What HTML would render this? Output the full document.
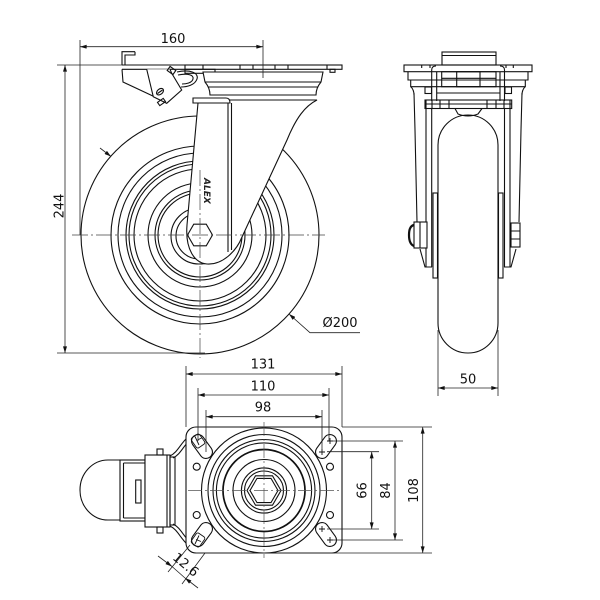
<!DOCTYPE html>
<html><head><meta charset="utf-8"><style>html,body{margin:0;padding:0;background:#fff}svg{display:block}</style></head>
<body>
<svg width="600" height="600" viewBox="0 0 600 600" xmlns="http://www.w3.org/2000/svg">
<defs>
<marker id="a" viewBox="0 0 10 6" refX="10" refY="3" markerWidth="7" markerHeight="4" markerUnits="userSpaceOnUse" orient="auto-start-reverse"><path d="M0,0L10,3L0,6Z" fill="#111"/></marker>
</defs>
<rect width="600" height="600" fill="#fff"/>

<!-- ================= SIDE VIEW ================= -->
<g fill="none" stroke="#111" stroke-width="1.1">
  <circle cx="200" cy="235" r="119"/>
  <circle cx="200" cy="235" r="89"/>
  <circle cx="200" cy="235" r="82"/>
  <circle cx="200" cy="235" r="74"/>
  <circle cx="200" cy="235" r="71"/>
  <circle cx="200" cy="235" r="66"/>
  <circle cx="200" cy="235" r="52"/>
  <circle cx="200" cy="235" r="45"/>
  <circle cx="200" cy="235" r="42"/>
  <circle cx="199" cy="236" r="28"/>
  <circle cx="199" cy="236" r="23"/>

  <!-- plate & brake -->
  <rect x="185" y="65" width="157" height="4.3" fill="#fff"/>
  <path d="M203,65v4.3M240,65v4.3M253,65v4.3M275,65v4.3M288,65v4.3M327,65v4.3"/>
  <rect x="330" y="69.3" width="5" height="3"/>
  <path d="M122,65H185M122,69.3H185"/>
  <path d="M135,51.7H122V65M135,51.7V55H125V65"/>
  <rect x="185" y="69.3" width="30" height="4"/>
  <path d="M122,69.3L123,82L155,97L161,100" />
  <path d="M146.7,69.3L153.3,96.7L166.7,103.3L181.7,90L171.7,73.3L170,69.3" fill="#fff"/>
  <ellipse cx="160" cy="91.7" rx="4" ry="2.6" transform="rotate(-40 160 91.7)"/>
  <path d="M157.5,93.5L162.5,90"/>
  <rect x="158" y="100" width="7" height="4" transform="rotate(-35 161.5 102)"/>
  <rect x="168" y="68" width="7" height="5" transform="rotate(35 171.5 70.5)"/>
  <path d="M177,72C190,69 199,73 197,79C195,85 187,87 181,87"/>
  <path d="M178,75C188,73 194,75 193,79C192,83 186,84 182,84"/>

  <!-- bearing housing -->
  <path d="M203,72H323L321,82Q316,88 316,95H210Q210,88 205,82Z" fill="#fff"/>
  <path d="M205,82H321M208,87H318"/>

  <!-- fork -->
  <path d="M198,103L187,225C185,250 195,263 207,264C222,265 236,252 242,237L287,140C296,118 305,106 317,100H228Z" fill="#fff"/>
  <path d="M193,98H226Q230,98 230,103H193Z" fill="#fff"/>
  <path d="M228,103V252M231.5,103V250"/>
  <polygon points="187.5,235 193.75,224.2 206.25,224.2 212.5,235 206.25,245.8 193.75,245.8" fill="#fff"/>
</g>
<text x="0" y="0" transform="translate(204,178) rotate(90)" font-family="'DejaVu Sans','Liberation Sans',sans-serif" font-size="9" font-style="italic" font-weight="bold" fill="#222">ALEX</text>

<!-- side view center lines -->
<g stroke="#444" stroke-width="0.7" fill="none" stroke-dasharray="16 3 2 3">
  <path d="M72,235H325"/>
  <path d="M200,170V358"/>
</g>

<!-- side view dims -->
<g stroke="#222" stroke-width="0.8" fill="none">
  <path d="M80,40V235M263,40V78"/>
  <path d="M80,46.7H263" marker-start="url(#a)" marker-end="url(#a)"/>
  <path d="M57,65H122M57,353H205"/>
  <path d="M65,65V353" marker-start="url(#a)" marker-end="url(#a)"/>
  <path d="M100,148L111,156.5" marker-end="url(#a)"/>
  <path d="M360,332.7H310L289,314" marker-end="url(#a)"/>
</g>

<!-- ================= FRONT VIEW ================= -->
<g fill="none" stroke="#111" stroke-width="1.1">
  <rect x="438" y="115" width="60" height="238" rx="30" ry="30"/>
  <rect x="442" y="52" width="54" height="13"/>
  <path d="M442,55.5H496"/>
  <rect x="404" y="65" width="128" height="6.7"/>
  <path d="M421.7,65v3M513.3,65v3M430,65v3M506,65v3"/>
  <path d="M408,71.7V80H528V71.7"/>
  <path d="M410.7,80V86.7H525.3V80"/>
  <path d="M411,86.7Q414,90 414,95M525,86.7Q522,90 522,95"/>
  <path d="M431.7,101V70Q431.7,66 436,66M504.5,101V70Q504.5,66 500,66"/>
  <path d="M436.7,101V71.7M500,101V71.7"/>
  <rect x="441.7" y="71.7" width="54.3" height="15"/>
  <rect x="456.7" y="71.7" width="23.3" height="15"/>
  <path d="M441.7,78.3H496M436.7,93H500"/>
  <rect x="425" y="87" width="6.5" height="6.5"/>
  <rect x="505" y="87" width="6.5" height="6.5"/>
  <rect x="425" y="100" width="86.7" height="8.5"/>
  <path d="M425,104H511.7"/>
  <path d="M432,100.5v8M440,100.5v8M449,100.5v8M487,100.5v8M496,100.5v8M504,100.5v8"/>
  <path d="M455,108.5H482L478,114Q468,118 458,114Z"/>
  <!-- left leg -->
  <path d="M414,93L415,130L417,222"/>
  <path d="M426,100V267M431.7,108.5V267M420,249L425,267H432"/>
  <rect x="433" y="193" width="4.5" height="85"/>
  <rect x="414" y="222" width="13" height="26" fill="#fff"/>
  <path d="M414,225Q409,226 409,235Q409,244 414,246" stroke-width="2.2"/>
  <path d="M420,222V248"/>
  <!-- right leg -->
  <path d="M522,93L521,130L519,222"/>
  <path d="M510,100V267M504.5,108.5V267M516,249L511,267H504"/>
  <rect x="498.5" y="193" width="4.5" height="85"/>
  <rect x="511" y="223" width="9" height="24" fill="#fff"/>
  <path d="M511,231H520M511,239H520"/>
</g>
<g stroke="#222" stroke-width="0.8" fill="none">
  <path d="M438,330V396M498,330V396"/>
  <path d="M438,388H498" marker-start="url(#a)" marker-end="url(#a)"/>
</g>

<!-- ================= BOTTOM VIEW ================= -->
<g fill="none" stroke="#111" stroke-width="1.1">
  <!-- brake -->
  <path d="M170,456C178,452 180,444 188,437M173,458C181,454 183,446 191,439"/>
  <path d="M170,526C178,530 180,538 188,545M173,524C181,528 183,536 191,543"/>
  <path d="M120,460H108A28,30 0 0 0 108,520H120" fill="#fff"/>
  <rect x="120" y="460" width="25" height="61" fill="#fff"/>
  <path d="M123.5,463V518M123.5,463H145M123.5,518H145"/>
  <rect x="135.7" y="480" width="5.3" height="23"/>
  <rect x="145" y="455" width="25" height="72" fill="#fff"/>
  <path d="M167,455V527"/>
  <rect x="170" y="457" width="5" height="68"/>
  <rect x="157" y="449" width="6" height="6"/>
  <rect x="157" y="527" width="6" height="6"/>

  <!-- plate -->
  <rect x="186" y="427" width="156" height="126" rx="10" ry="10" fill="#fff"/>
  <circle cx="196.7" cy="466.7" r="3.5"/>
  <circle cx="330" cy="466.7" r="3.5"/>
  <circle cx="196.7" cy="515" r="3.5"/>
  <circle cx="330" cy="515" r="3.5"/>

  <!-- rings -->
  <circle cx="264" cy="490.5" r="62.5" fill="#fff"/>
  <circle cx="264" cy="490.5" r="56"/>
  <circle cx="264" cy="490.5" r="51"/>
  <circle cx="264" cy="490.5" r="47.6"/>
  <circle cx="264" cy="490.5" r="41" stroke-width="1.7"/>
  <circle cx="264" cy="490.5" r="31"/>
  <circle cx="264" cy="490.5" r="22.6"/>
  <circle cx="264" cy="490.5" r="19.5"/>
  <polygon points="247,490.5 255.5,475.8 272.5,475.8 281,490.5 272.5,505.2 255.5,505.2"/>
  <polygon points="250,490.5 257,478.4 271,478.4 278,490.5 271,502.6 257,502.6"/>
</g>
<!-- slots (capsule outlines via double stroke) -->
<g stroke-linecap="round">
  <g stroke="#111" stroke-width="14">
    <path d="M198,441L206,452M330,441L322,452M198,540L206,529M330,540L322,529"/>
  </g>
  <g stroke="#fff" stroke-width="11.8">
    <path d="M198,441L206,452M330,441L322,452M198,540L206,529M330,540L322,529"/>
  </g>
</g>
<g fill="none" stroke="#111" stroke-width="0.9">
  <!-- bolts on left slots -->
  <rect x="193" y="435" width="10" height="12" rx="2" transform="rotate(-35 198 441)"/>
  <path d="M195,436.5L199,445M197.5,440L201.5,438"/>
  <rect x="193" y="534" width="10" height="12" rx="2" transform="rotate(35 198 540)"/>
  <path d="M195,544L199,535.5M196,539.5L201,541.5"/>
  <!-- + marks right slots -->
  <path d="M327,441H333M330,438V444M319,452H325M322,449V455"/>
  <path d="M327,540H333M330,537V543M319,529H325M322,526V532"/>
</g>
<!-- bottom view center lines -->
<g stroke="#555" stroke-width="0.7" fill="none" stroke-dasharray="14 3 2 3">
  <path d="M188,490.5H342"/>
  <path d="M264,422V558"/>
</g>
<!-- bottom view dims -->
<g stroke="#222" stroke-width="0.8" fill="none">
  <path d="M186,366V427M342,366V427"/>
  <path d="M186,374H342" marker-start="url(#a)" marker-end="url(#a)"/>
  <path d="M198,388V441M329,388V441"/>
  <path d="M198,395H329" marker-start="url(#a)" marker-end="url(#a)"/>
  <path d="M206,410V452M322,410V452"/>
  <path d="M206,416.7H322" marker-start="url(#a)" marker-end="url(#a)"/>
  <path d="M327,451.7H379M327,529H379"/>
  <path d="M371.7,451.7V529" marker-start="url(#a)" marker-end="url(#a)"/>
  <path d="M330,441H403M330,540H403"/>
  <path d="M395,441V540" marker-start="url(#a)" marker-end="url(#a)"/>
  <path d="M342,427H432M196,553H432"/>
  <path d="M422.7,427V553" marker-start="url(#a)" marker-end="url(#a)"/>
  <!-- 12.6 -->
  <path d="M190,545L168,572M205,553L182,584"/>
  <path d="M158,556L172,566.5" marker-end="url(#a)"/>
  <path d="M198,588L185,578" marker-end="url(#a)"/>
  <path d="M172,566.5L185,578"/>
</g>

<!-- ================= TEXT ================= -->
<g font-family="'DejaVu Sans','Liberation Sans',sans-serif" font-size="13" fill="#111" text-anchor="middle">
  <text x="173" y="43">160</text>
  <text transform="translate(63.5,206) rotate(-90)">244</text>
  <text x="340" y="327">Ø200</text>
  <text x="468" y="383.5">50</text>
  <text x="263" y="368.5">131</text>
  <text x="263" y="390.5">110</text>
  <text x="263" y="411.5">98</text>
  <text transform="translate(366.5,490.5) rotate(-90)">66</text>
  <text transform="translate(390,490.5) rotate(-90)">84</text>
  <text transform="translate(418,490.5) rotate(-90)">108</text>
  <text transform="translate(183,568) rotate(40)">12.6</text>
</g>
</svg>
</body></html>
